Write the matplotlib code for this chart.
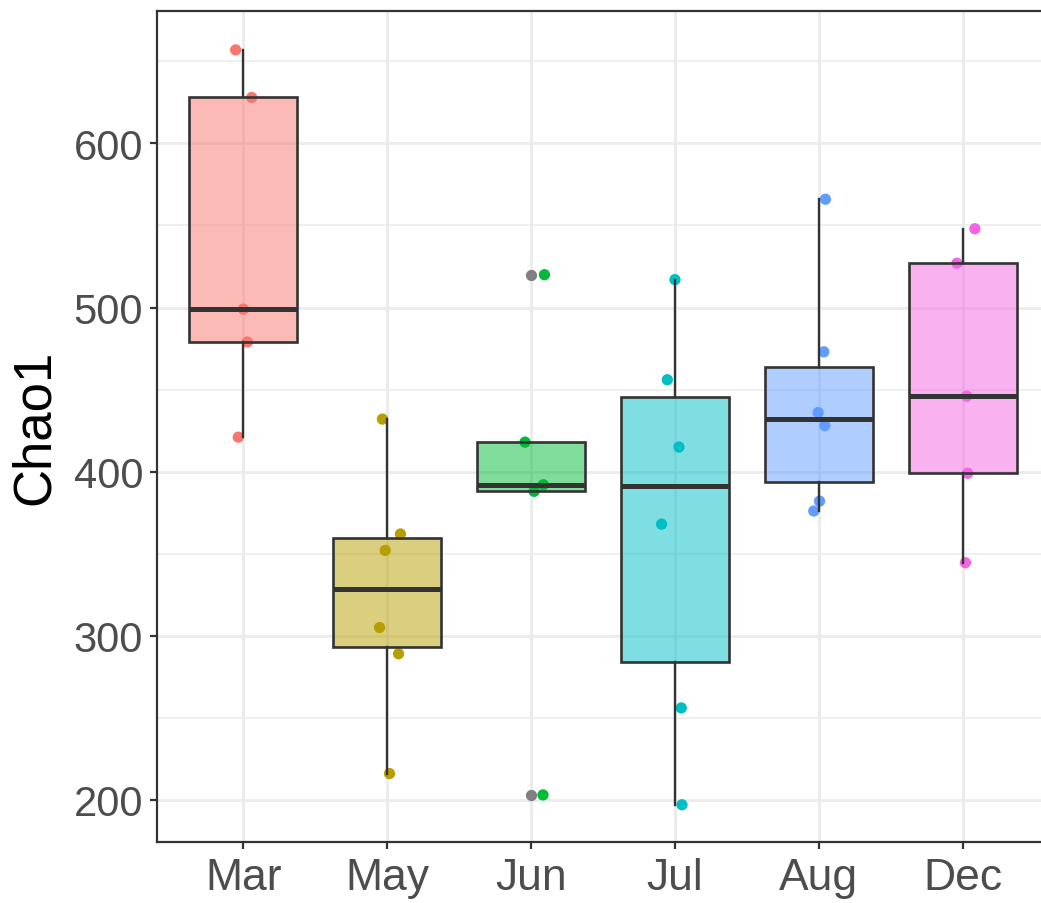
import matplotlib
import numpy as np

matplotlib.use("Agg")
import matplotlib.pyplot as plt  # noqa: E402

plt.rcParams["font.family"] = ["Liberation Sans", "DejaVu Sans"]

months = ["Mar", "May", "Jun", "Jul", "Aug", "Dec"]
colors = ["#F8766D", "#B79F00", "#00BA38", "#00BFC4", "#619CFF", "#F564E3"]

# Chao1 per sample
mar = [657, 628, 499, 479, 421]
may = [432, 362, 352, 305, 289, 216]
jun = [520, 418, 392, 388, 203]
jul = [517, 456, 415, 368, 256, 197]
aug = [566, 473, 436, 428, 382, 376]
dec = [548, 527, 446, 399, 344.5]
values = [mar, may, jun, jul, aug, dec]

# horizontal jitter of each point (category units)
jitter = [
    [-0.053, 0.058, 0.0, 0.028, -0.035],
    [-0.033, 0.092, -0.014, -0.053, 0.079, 0.016],
    [0.093, -0.042, 0.085, 0.021, 0.083],
    [0.0, -0.053, 0.028, -0.093, 0.044, 0.049],
    [0.046, 0.035, -0.005, 0.042, 0.005, -0.035],
    [0.085, -0.04, 0.028, 0.035, 0.019],
]

fig = plt.figure(figsize=(10.41, 9.04), dpi=100)
ax = fig.add_axes([157 / 1041, 61 / 904, 892 / 1041, 831 / 904])

pos = np.arange(1, len(months) + 1)
for i, (v, j, c) in enumerate(zip(values, jitter, colors)):
    ax.scatter(pos[i] + np.array(j), v, s=66, color=c, edgecolors="none", zorder=2)

edge = "#333333"
bp = ax.boxplot(values, positions=pos, widths=0.75, whis=1.5, patch_artist=True,
                showcaps=False, zorder=3,
                boxprops=dict(edgecolor=edge, linewidth=1.9),
                whiskerprops=dict(color=edge, linewidth=1.7),
                medianprops=dict(color=edge, linewidth=3.6, solid_capstyle="butt"),
                flierprops=dict(marker="o", markerfacecolor="#808080", markeredgecolor="none",
                                markersize=8.1))
for patch, c in zip(bp["boxes"], colors):
    patch.set_facecolor(matplotlib.colors.to_rgba(c, 0.5))

ax.set_xlim(0.4, 6.6)
ax.set_ylim(174.3, 680.7)
ax.set_xticks(pos)
ax.set_xticklabels(months)
ax.set_yticks([200, 300, 400, 500, 600])
ax.set_yticks([250, 350, 450, 550, 650], minor=True)
ax.grid(True, which="major", color="#EBEBEB", linewidth=2.0, zorder=0)
ax.grid(True, which="minor", axis="y", color="#EBEBEB", linewidth=1.1, zorder=0)
ax.set_axisbelow(True)
ax.tick_params(axis="both", which="major", labelcolor="#4D4D4D", color=edge,
               length=5, width=1.6)
ax.tick_params(axis="x", labelsize=32, pad=6)
ax.tick_params(axis="y", labelsize=30, pad=5)
ax.tick_params(which="minor", length=0)
for s in ax.spines.values():
    s.set_color(edge)
    s.set_linewidth(1.6)
ax.set_ylabel("Chao1", fontsize=38, color="black", labelpad=10)

fig.savefig("out.png", dpi=100)
